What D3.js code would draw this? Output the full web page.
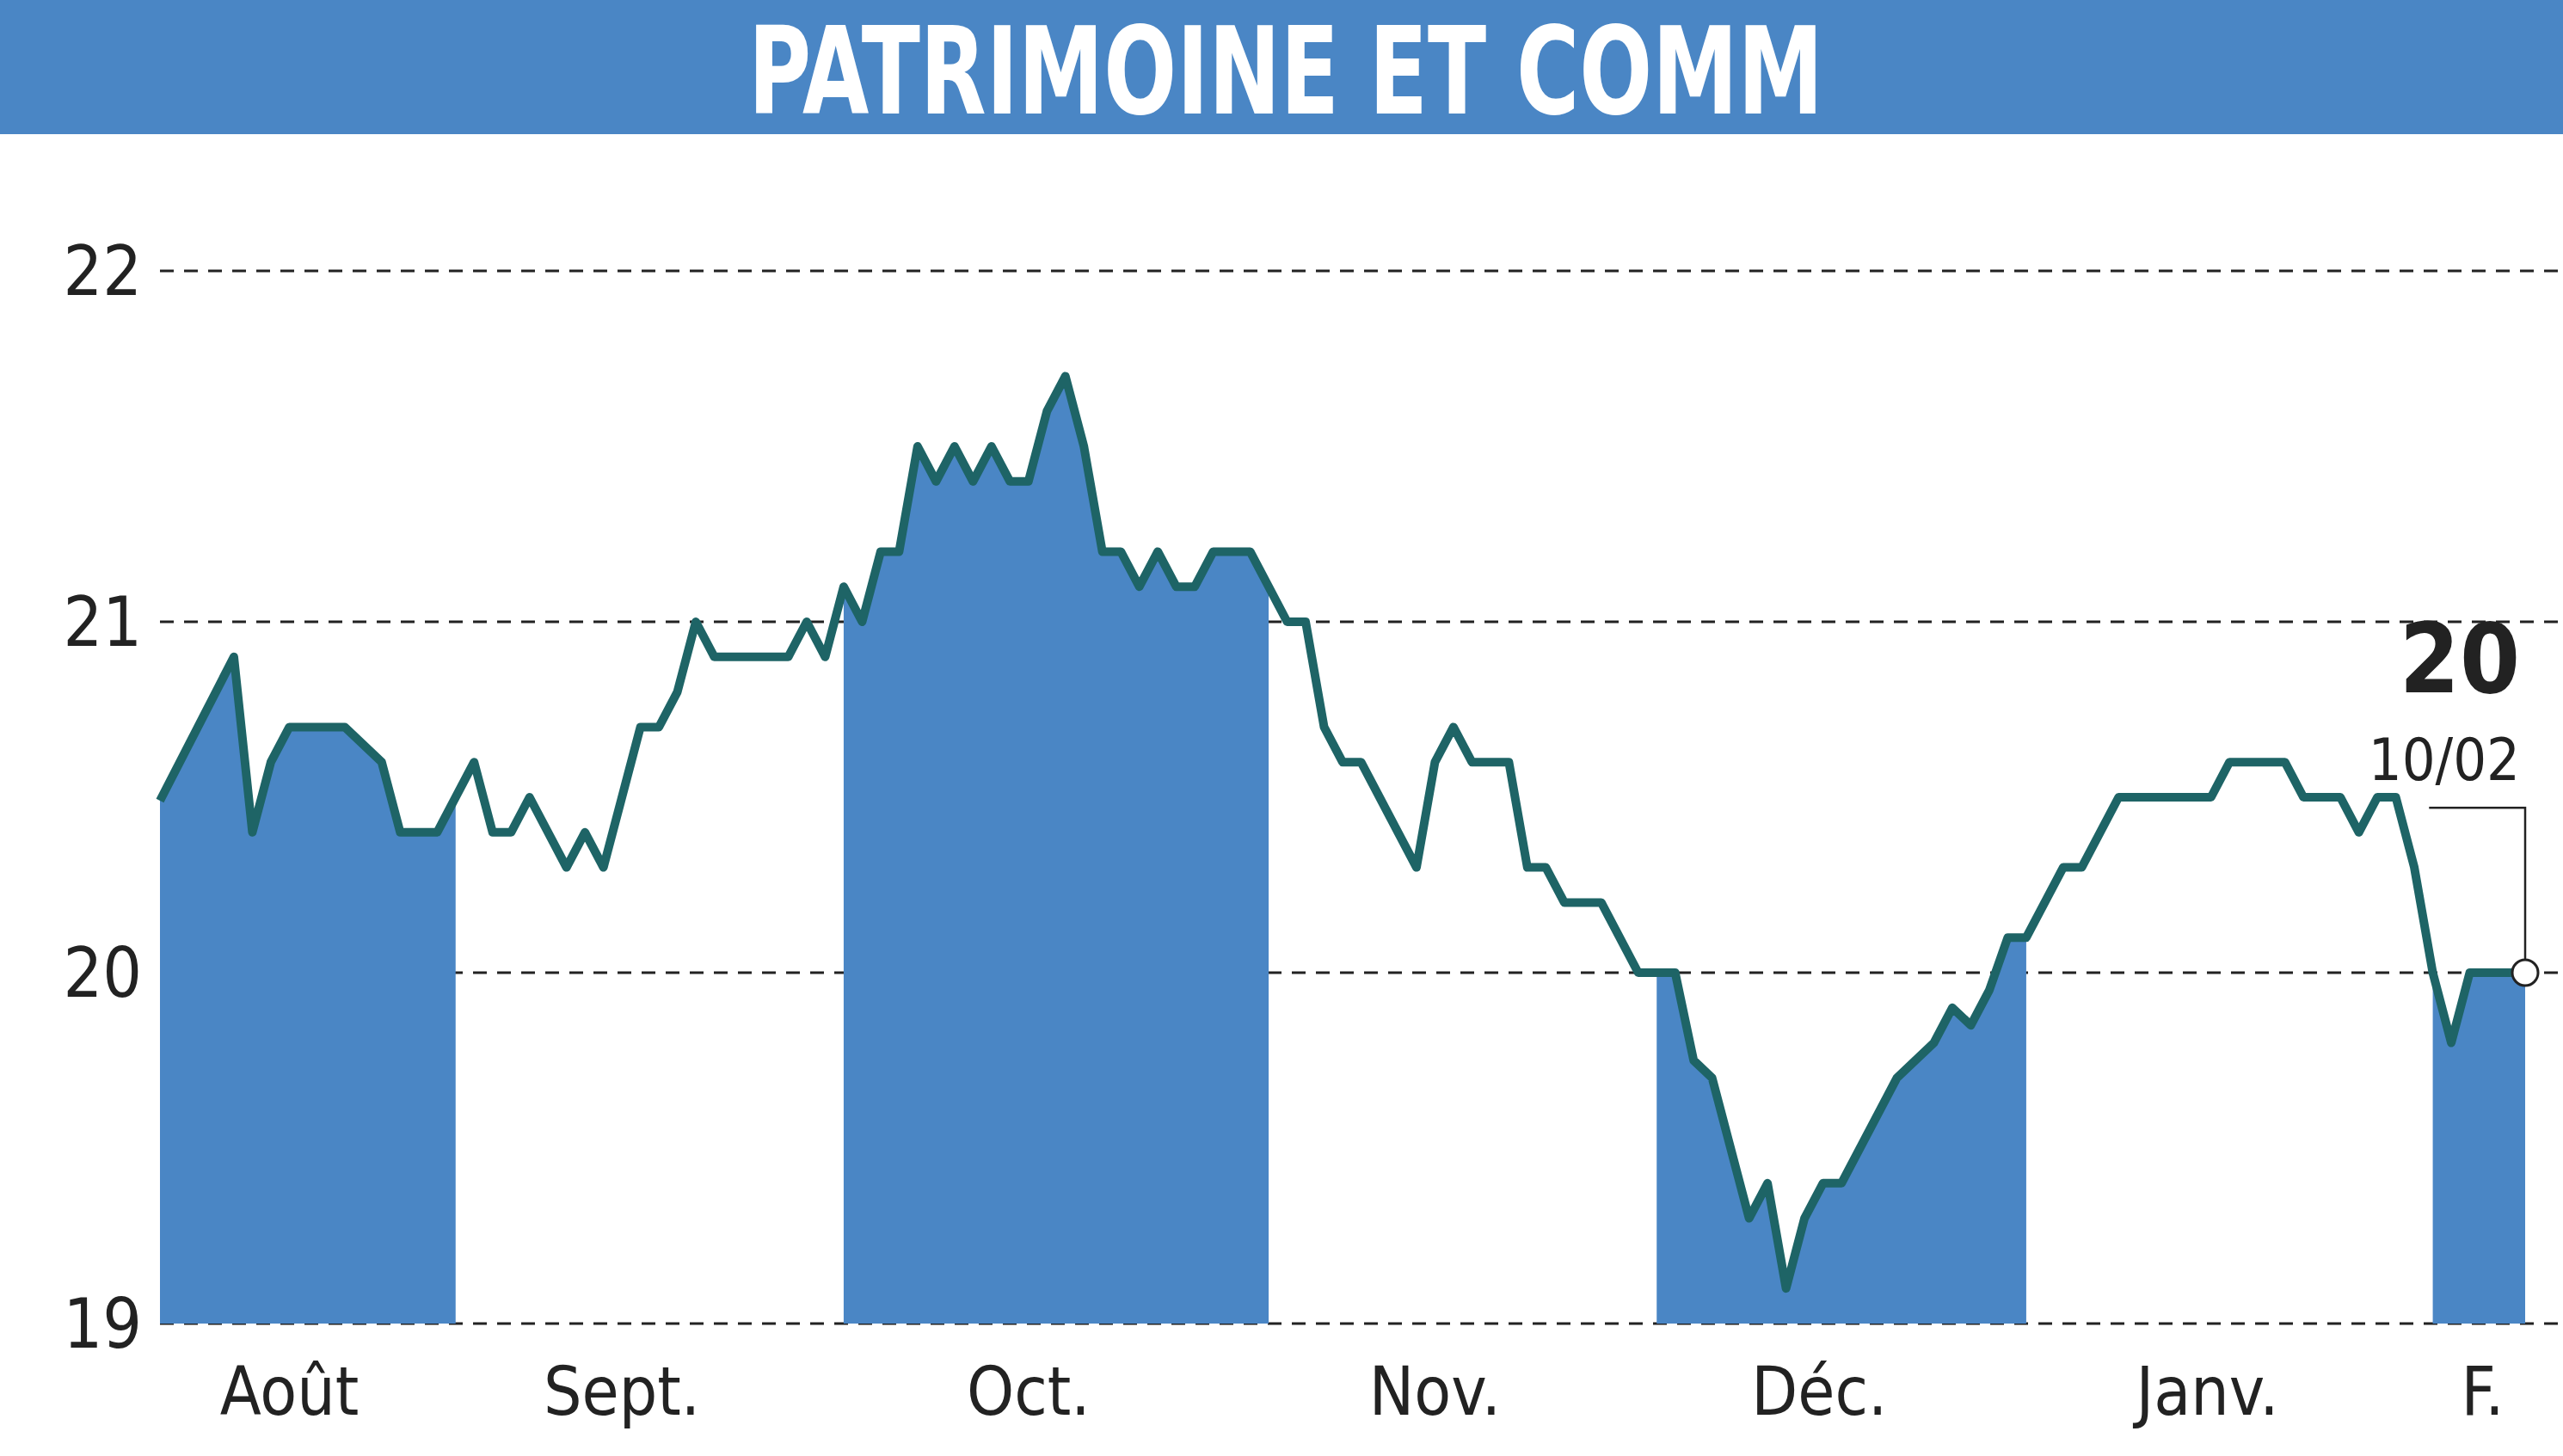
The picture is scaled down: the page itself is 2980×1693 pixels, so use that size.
<!DOCTYPE html>
<html><head><meta charset="utf-8">
<script src="https://cdn.jsdelivr.net/npm/d3@7"></script>
<style>body{margin:0;background:#fff}svg{display:block}text{font-family:"DejaVu Sans Condensed","DejaVu Sans";font-stretch:condensed}</style>
</head><body>
<svg id="c" width="2980" height="1693"></svg>
<script>
const title = 'PATRIMOINE ET COMM'
const dayIndex = [0,4,5,6,7,10,12,13,15,17,18,19,20,22,23,24,26,27,28,29,30,34,35,36,37,38,39,40,41,42,43,44,45,46,47,48,49,50,51,52,53,54,55,56,57,59,61,62,63,64,65,68,69,70,71,73,74,75,76,78,80,82,83,84,86,87,88,89,90,91,94,96,97,98,99,100,101,103,104,106,111,112,115,116,118,119,120,121,122,123,124,125,128]
const prices = [20.49,20.9,20.4,20.6,20.7,20.7,20.6,20.4,20.4,20.6,20.4,20.4,20.5,20.3,20.4,20.3,20.7,20.7,20.8,21.0,20.9,20.9,21.0,20.9,21.1,21.0,21.2,21.2,21.5,21.4,21.5,21.4,21.5,21.4,21.4,21.6,21.7,21.5,21.2,21.2,21.1,21.2,21.1,21.1,21.2,21.2,21.0,21.0,20.7,20.6,20.6,20.3,20.6,20.7,20.6,20.6,20.3,20.3,20.2,20.2,20.0,20.0,19.75,19.7,19.3,19.4,19.1,19.3,19.4,19.4,19.7,19.8,19.9,19.85,19.95,20.1,20.1,20.3,20.3,20.5,20.5,20.6,20.6,20.5,20.5,20.4,20.5,20.5,20.3,20.0,19.8,20.0,20.0]
const monthLabels = ['Août','Sept.','Oct.','Nov.','Déc.','Janv.','F.']
const monthCenters = [7,25,47,69,89.8,110.8,125.7]
const bandStart = [0,37,81,123]
const bandEnd = [16,60,101,128]
const yTicks = [19,20,21,22]
const lastLabel = '20', lastDate = '10/02'

const svg = d3.select('#c')
const x = d3.scaleLinear().domain([0,128]).range([186,2936])
const y = d3.scaleLinear().domain([19,22]).range([1539,315])
const blue = '#4a86c5', lineCol = '#1e6466'
const data = dayIndex.map((d,i)=>({d, v: prices[i]}))

svg.append('rect').attr('width',2980).attr('height',156).attr('fill',blue)
svg.append('text').attr('x',1495).attr('y',132).attr('text-anchor','middle')
  .attr('fill','#fff').attr('font-size',140).attr('font-weight','bold')
  .attr('textLength',1250).attr('lengthAdjust','spacingAndGlyphs').text(title)

// grid
svg.selectAll('.grid').data(yTicks).enter().append('line')
  .attr('x1',186).attr('x2',2980).attr('y1',y).attr('y2',y)
  .attr('stroke','#222').attr('stroke-width',3).attr('stroke-dasharray','16,12')
svg.selectAll('.yl').data(yTicks).enter().append('text')
  .attr('x',165).attr('y',d=>y(d)+28).attr('text-anchor','end')
  .attr('font-size',80).attr('fill','#222').text(d=>d)

// bands clip
const clip = svg.append('clipPath').attr('id','bands')
clip.selectAll('rect').data(bandStart).enter().append('rect')
  .attr('x',d=>x(d)).attr('width',(d,i)=>x(bandEnd[i])-x(d))
  .attr('y',0).attr('height',1693)
svg.append('path').datum(data).attr('clip-path','url(#bands)').attr('fill',blue)
  .attr('d',d3.area().x(d=>x(d.d)).y0(y(19)).y1(d=>y(d.v)))

svg.append('path').datum(data).attr('fill','none').attr('stroke',lineCol)
  .attr('stroke-width',10).attr('stroke-linejoin','round')
  .attr('d',d3.line().x(d=>x(d.d)).y(d=>y(d.v)))

svg.selectAll('.xl').data(monthLabels).enter().append('text')
  .attr('x',(d,i)=>x(monthCenters[i])).attr('y',1645).attr('text-anchor','middle')
  .attr('font-size',78).attr('fill','#222').text(d=>d)

// last value annotation
const last = data[data.length-1]
const lx = x(last.d), ly = y(last.v)
svg.append('path').attr('fill','none').attr('stroke','#222').attr('stroke-width',2.5)
  .attr('d',`M${lx},${ly} V${y(20.47)} H${x(122.8)}`)
svg.append('circle').attr('cx',lx).attr('cy',ly).attr('r',15)
  .attr('fill','#fff').attr('stroke','#222').attr('stroke-width',3)
svg.append('text').attr('x',lx-6).attr('y',y(20.8)).attr('text-anchor','end')
  .attr('font-size',112).attr('font-weight','bold').attr('fill','#222').text(lastLabel)
svg.append('text').attr('x',lx-6).attr('y',y(20.55)).attr('text-anchor','end')
  .attr('font-size',68).attr('fill','#222').text(lastDate)
</script>
</body></html>
